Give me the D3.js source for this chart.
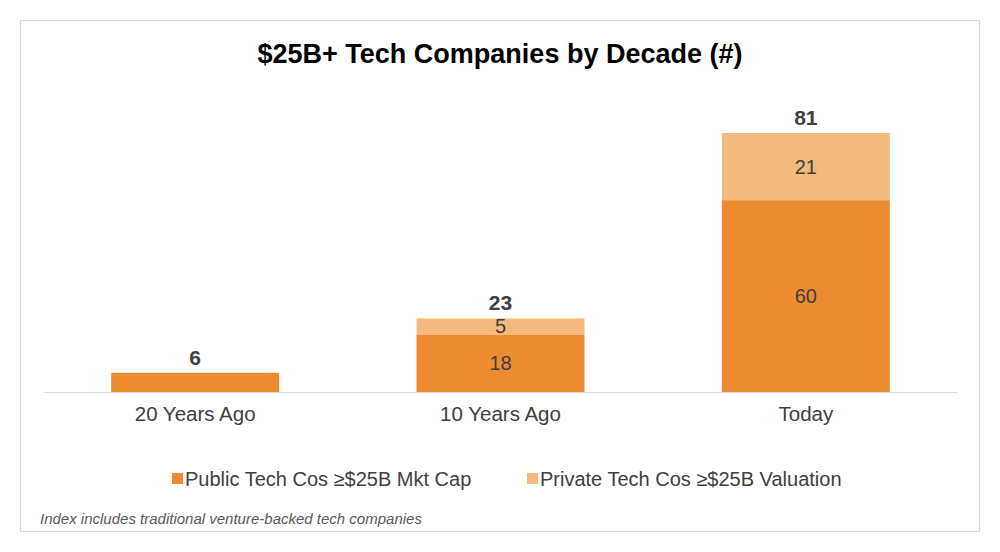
<!DOCTYPE html>
<html><head><meta charset="utf-8">
<script src="https://cdn.jsdelivr.net/npm/d3@7"></script>
<style>body{margin:0;background:#fff;font-family:Arial,"Liberation Sans",sans-serif}</style>
</head><body><svg id="chart" width="1000" height="552"></svg>
<script>
// chart data
var categories = ["20 Years Ago", "10 Years Ago", "Today"];
var publicCos = [6, 18, 60];
var privateCos = [0, 5, 21];
var seriesNames = ["Public Tech Cos \u2265$25B Mkt Cap", "Private Tech Cos \u2265$25B Valuation"];
var colors = ["#ED8B33", "#F4B97C"];

var svg = d3.select("#chart");
svg.append("rect").attr("x", 20.5).attr("y", 20.5).attr("width", 959).attr("height", 511)
  .attr("fill", "#fff").attr("stroke", "#d9d9d9");

svg.append("text").attr("x", 500).attr("y", 63).attr("text-anchor", "middle")
  .attr("font-size", 27).attr("font-weight", "bold").attr("fill", "#000")
  .text("$25B+ Tech Companies by Decade (#)");

var x = d3.scaleBand().domain(categories).range([44, 957]).paddingInner(0.45).paddingOuter(0.22);
var y = d3.scaleLinear().domain([0, 81]).range([392, 133]);

var stacked = categories.map(function(c, i){
  return [
    {cat: c, y0: 0, y1: publicCos[i], v: publicCos[i], s: 0},
    {cat: c, y0: publicCos[i], y1: publicCos[i] + privateCos[i], v: privateCos[i], s: 1}
  ];
});
var segs = [].concat.apply([], stacked).filter(function(d){ return d.v > 0; });

svg.selectAll(".bar").data(segs).enter().append("rect")
  .attr("x", function(d){ return x(d.cat); })
  .attr("width", x.bandwidth())
  .attr("y", function(d){ return y(d.y1); })
  .attr("height", function(d){ return y(d.y0) - y(d.y1); })
  .attr("fill", function(d){ return colors[d.s]; });

// segment labels (not on the small first bar)
svg.selectAll(".seg").data(segs.filter(function(d){ return d.cat !== categories[0]; })).enter().append("text")
  .attr("x", function(d){ return x(d.cat) + x.bandwidth()/2; })
  .attr("y", function(d){ return (y(d.y0) + y(d.y1))/2 + 7; })
  .attr("text-anchor", "middle").attr("font-size", 20).attr("fill", "#404040")
  .text(function(d){ return d.v; });

svg.selectAll(".tot").data(categories).enter().append("text")
  .attr("x", function(d){ return x(d) + x.bandwidth()/2; })
  .attr("y", function(d, i){ return y(publicCos[i] + privateCos[i]) - 8; })
  .attr("text-anchor", "middle").attr("font-size", 21).attr("font-weight", "bold").attr("fill", "#404040")
  .text(function(d, i){ return publicCos[i] + privateCos[i]; });

var xAxis = svg.append("g").attr("transform", "translate(0,392)")
  .call(d3.axisBottom(x).tickSize(0).tickPadding(14));
xAxis.select(".domain").attr("stroke", "#d9d9d9");
xAxis.selectAll("text").attr("font-size", 20.5).attr("fill", "#404040")
  .attr("font-family", "Arial, 'Liberation Sans', sans-serif");

var legX = [172, 527];
seriesNames.forEach(function(n, i){
  svg.append("rect").attr("x", legX[i]).attr("y", 473).attr("width", 11).attr("height", 11).attr("fill", colors[i]);
  svg.append("text").attr("x", legX[i] + 13).attr("y", 486).attr("font-size", 20).attr("fill", "#404040").text(n);
});

svg.append("text").attr("x", 40).attr("y", 524).attr("font-size", 15).attr("font-style", "italic")
  .attr("fill", "#595959").text("Index includes traditional venture-backed tech companies");
</script></body></html>
